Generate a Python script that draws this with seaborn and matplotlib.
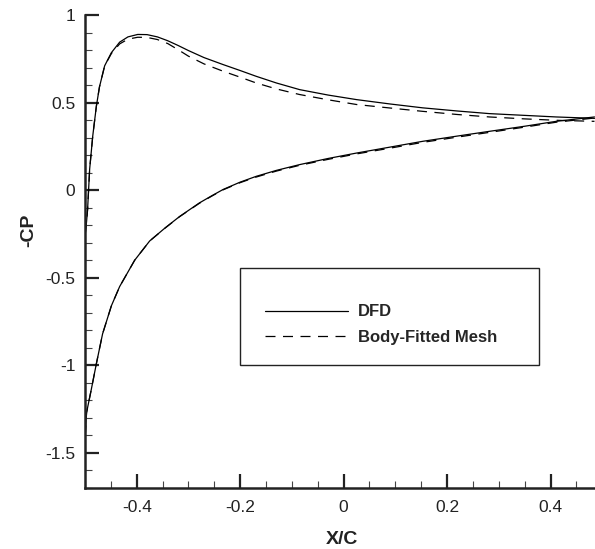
import matplotlib
matplotlib.use("Agg")
import matplotlib.pyplot as plt
from matplotlib.patches import Rectangle
from matplotlib.ticker import MultipleLocator
import seaborn as sns
import pandas as pd

# ---- data ----
x_upper = [-0.4995, -0.497, -0.495, -0.491, -0.485, -0.478, -0.472, -0.462, -0.449,
           -0.433, -0.417, -0.398, -0.38, -0.36, -0.34, -0.32, -0.30, -0.27, -0.233,
           -0.20, -0.169, -0.13, -0.085, -0.03, 0.025, 0.09, 0.153, 0.22, 0.282,
           0.35, 0.411, 0.485]
dfd_upper = [-0.25, -0.18, -0.11, 0.12, 0.31, 0.48, 0.59, 0.71, 0.785,
             0.845, 0.875, 0.889, 0.888, 0.875, 0.853, 0.826, 0.797, 0.757, 0.717,
             0.683, 0.65, 0.612, 0.574, 0.543, 0.517, 0.492, 0.47, 0.452, 0.437,
             0.427, 0.418, 0.41]
bfm_upper = [-0.25, -0.18, -0.11, 0.12, 0.31, 0.48, 0.59, 0.71, 0.78,
             0.835, 0.862, 0.873, 0.872, 0.86, 0.837, 0.802, 0.765, 0.721, 0.679,
             0.645, 0.612, 0.578, 0.546, 0.516, 0.489, 0.469, 0.45, 0.432, 0.418,
             0.407, 0.399, 0.393]

x_lower = [-0.4995, -0.497, -0.488, -0.478, -0.466, -0.449, -0.433, -0.404, -0.375,
           -0.345, -0.317, -0.279, -0.255, -0.233, -0.20, -0.169, -0.13, -0.085,
           -0.03, 0.025, 0.09, 0.153, 0.22, 0.282, 0.35, 0.411, 0.485]
dfd_lower = [-1.40, -1.27, -1.14, -0.99, -0.82, -0.66, -0.55, -0.40, -0.29,
             -0.215, -0.15, -0.073, -0.032, 0.004, 0.046, 0.079, 0.113, 0.146,
             0.181, 0.212, 0.246, 0.279, 0.309, 0.336, 0.365, 0.393, 0.418]
bfm_lower = [-1.40, -1.27, -1.14, -0.99, -0.82, -0.66, -0.55, -0.40, -0.29,
             -0.216, -0.151, -0.075, -0.034, 0.002, 0.043, 0.075, 0.109, 0.142,
             0.176, 0.207, 0.240, 0.273, 0.303, 0.330, 0.360, 0.388, 0.412]

series_labels = ["DFD", "Body-Fitted Mesh"]
x_ticks = [-0.4, -0.2, 0, 0.2, 0.4]
y_ticks = [-1.5, -1, -0.5, 0, 0.5, 1]

# ---- style ----
sns.set_theme(style="ticks")
plt.rcParams["font.family"] = ["Liberation Sans", "DejaVu Sans"]

fig = plt.figure(figsize=(5.95, 5.49), dpi=100)
ax = fig.add_axes([85 / 595, 61 / 549, 510 / 595, 473 / 549])

solid = dict(color="black", linewidth=0.9)
dashed = dict(color="black", linewidth=0.9, linestyle=(0, (8, 6)))

up = pd.DataFrame({"x": x_upper, "dfd": dfd_upper, "bfm": bfm_upper})
lo = pd.DataFrame({"x": x_lower, "dfd": dfd_lower, "bfm": bfm_lower})

sns.lineplot(data=up, x="x", y="bfm", ax=ax, sort=False, estimator=None, **dashed)
sns.lineplot(data=lo, x="x", y="bfm", ax=ax, sort=False, estimator=None, **dashed)
sns.lineplot(data=up, x="x", y="dfd", ax=ax, sort=False, estimator=None, **solid)
sns.lineplot(data=lo, x="x", y="dfd", ax=ax, sort=False, estimator=None, **solid)

h_dfd = ax.lines[2]
h_bfm = ax.lines[0]

ax.set_xlim(-0.5, 0.486)
ax.set_ylim(-1.7, 1.0)
ax.set_xticks(x_ticks)
ax.set_xticklabels(["-0.4", "-0.2", "0", "0.2", "0.4"])
ax.set_yticks(y_ticks)
ax.set_yticklabels(["-1.5", "-1", "-0.5", "0", "0.5", "1"])
ax.xaxis.set_minor_locator(MultipleLocator(0.05))
ax.yaxis.set_minor_locator(MultipleLocator(0.1))

for s in ["top", "right"]:
    ax.spines[s].set_visible(False)
for s in ["left", "bottom"]:
    ax.spines[s].set_linewidth(1.8)
    ax.spines[s].set_color("#222222")

ax.tick_params(which="major", direction="in", length=10, width=1.6, color="#222222",
               labelsize=12.5, labelcolor="#222222")
ax.tick_params(which="minor", direction="in", length=5, width=0.8, color="#444444")
ax.tick_params(axis="x", which="major", pad=9)
ax.tick_params(axis="y", which="major", pad=7)

ax.set_xlabel("X/C", fontsize=14, fontweight="bold", color="#222222")
ax.set_ylabel("-CP", fontsize=14, fontweight="bold", color="#222222")
ax.xaxis.set_label_coords(0.504, -0.091)
ax.yaxis.set_label_coords(-0.094, 0.545)

# legend box
rect = Rectangle((0.304, 0.260), 0.586, 0.205, transform=ax.transAxes,
                 fill=False, edgecolor="#222222", linewidth=1.0, zorder=3)
ax.add_patch(rect)
ax.legend([h_dfd, h_bfm], series_labels, loc="center left",
          bbox_to_anchor=(0.353, 0.345), frameon=False, borderpad=0,
          borderaxespad=0, handlelength=5.0, handletextpad=0.6,
          labelspacing=0.65, prop={"weight": "bold", "size": 12})

fig.savefig("out.png", dpi=100)
